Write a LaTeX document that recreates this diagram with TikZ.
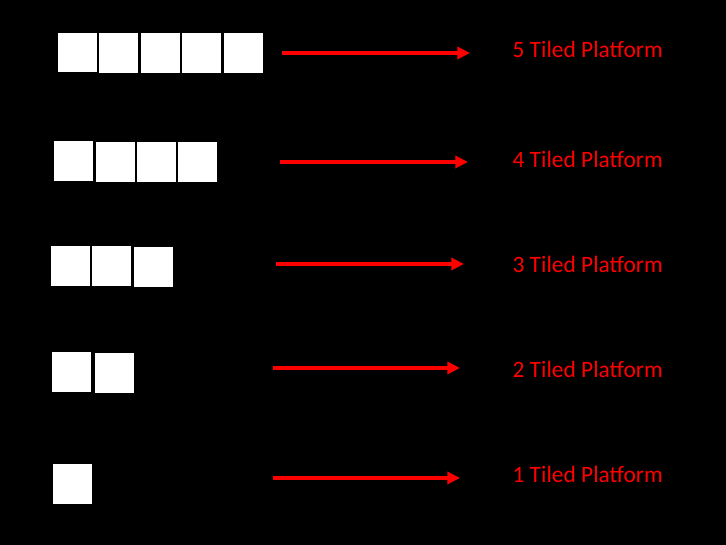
\documentclass[tikz,border=0pt]{standalone}
\usepackage{fontspec}
\setmainfont{Carlito}
\usetikzlibrary{arrows.meta}

\tikzset{every picture/.style={line width=0.75pt}}
\tikzset{
  tile/.style={fill=white, draw=none, inner sep=0pt, anchor=north west, minimum width=29.4pt, minimum height=29.4pt},
  platlabel/.style={anchor=base west, inner sep=0pt, text=red, font=\fontsize{17.6}{21}\selectfont},
  platarrow/.style={draw=red, line width=2.6pt, -{Triangle[length=9.5pt,width=9pt]}}
}

\begin{document}
\begin{tikzpicture}[x=0.75pt,y=0.75pt,yscale=-1,xscale=1]
%background
\fill [black] (0,0) rectangle (726,545) ;
\useasboundingbox (0,0) rectangle (726,545) ;

%Tiles row 5
\node [tile] (t51) at (57,32.5) {};
\node [tile] (t52) at (98,33) {};
\node [tile] (t53) at (140,33) {};
\node [tile] (t54) at (181.5,33) {};
\node [tile] (t55) at (223,33) {};
%Tiles row 4
\node [tile] (t41) at (53,141) {};
\node [tile] (t42) at (95,142) {};
\node [tile] (t43) at (136,142) {};
\node [tile] (t44) at (177.5,142) {};
%Tiles row 3
\node [tile] (t31) at (50,246) {};
\node [tile] (t32) at (91,246) {};
\node [tile] (t33) at (133,247) {};
%Tiles row 2
\node [tile] (t21) at (51,352) {};
\node [tile] (t22) at (94,353) {};
%Tiles row 1
\node [tile] (t11) at (52,464) {};

%Arrows
\coordinate (a5s) at (282,53) ;
\coordinate (a5e) at (470,53) ;
\draw [platarrow] (a5s) -- (a5e) ;
\coordinate (a4s) at (280,162) ;
\coordinate (a4e) at (468,162) ;
\draw [platarrow] (a4s) -- (a4e) ;
\coordinate (a3s) at (276,264) ;
\coordinate (a3e) at (464,264) ;
\draw [platarrow] (a3s) -- (a3e) ;
\coordinate (a2s) at (273,368) ;
\coordinate (a2e) at (460,368) ;
\draw [platarrow] (a2s) -- (a2e) ;
\coordinate (a1s) at (273,478) ;
\coordinate (a1e) at (460,478) ;
\draw [platarrow] (a1s) -- (a1e) ;

% Text Node
\node [platlabel] (p5) at (512,57.7) {5 Tiled Platform};
% Text Node
\node [platlabel] (p4) at (512,167.7) {4 Tiled Platform};
% Text Node
\node [platlabel] (p3) at (512,272.7) {3 Tiled Platform};
% Text Node
\node [platlabel] (p2) at (512,377.7) {2 Tiled Platform};
% Text Node
\node [platlabel] (p1) at (512,482.7) {1 Tiled Platform};

\end{tikzpicture}
\end{document}
